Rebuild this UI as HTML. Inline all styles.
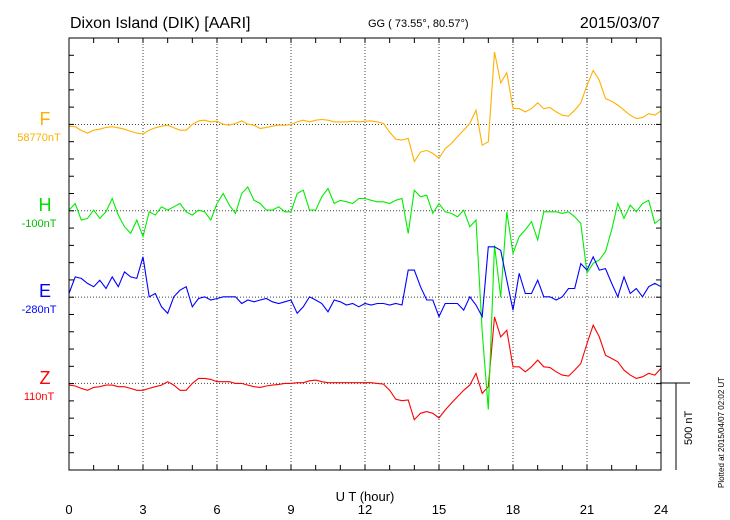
<!DOCTYPE html>
<html><head><meta charset="utf-8"><style>
body{margin:0;background:#fff;}
svg{display:block;font-family:"Liberation Sans",sans-serif;}
</style></head><body>
<svg id="chart" width="730" height="520" viewBox="0 0 730 520">
<text x="70" y="28" font-size="16">Dixon Island (DIK)  [AARI]</text>
<text x="368" y="27" font-size="11">GG ( 73.55°,  80.57°)</text>
<text x="660" y="28" font-size="16" text-anchor="end">2015/03/07</text>
<text x="365" y="501" font-size="13" text-anchor="middle">U T (hour)</text>
<text x="45" y="125" font-size="18" fill="#ffb000" text-anchor="middle">F</text>
<text x="39" y="141" font-size="11" fill="#ffb000" text-anchor="middle">58770nT</text>
<text x="45" y="211" font-size="18" fill="#00e000" text-anchor="middle">H</text>
<text x="39" y="227" font-size="11" fill="#00c000" text-anchor="middle">-100nT</text>
<text x="45" y="297" font-size="18" fill="#0000ff" text-anchor="middle">E</text>
<text x="39" y="313" font-size="11" fill="#0000ff" text-anchor="middle">-280nT</text>
<text x="45" y="384" font-size="18" fill="#ff0000" text-anchor="middle">Z</text>
<text x="39" y="400" font-size="11" fill="#ff0000" text-anchor="middle">110nT</text>
<g>
<line x1="660" y1="383" x2="690" y2="383" stroke="#000"/>
<line x1="676" y1="383" x2="676" y2="470" stroke="#000"/>
<text transform="translate(692,445) rotate(-90)" font-size="11">500 nT</text>
</g>
<text transform="translate(724,488) rotate(-90)" font-size="8">Plotted at 2015/04/07 02:02 UT</text>
<g id="grid"></g><g id="series"></g>
<rect x="69" y="38" width="592" height="432" fill="none" stroke="#000"/>
<g id="axes"></g>
</svg>
<script>
const hours=[];for(let i=0;i<=96;i++)hours.push(i*0.25);
const xTickLabels=[0,3,6,9,12,15,18,21,24];
const F=[-10,-13,-35,-50,-33,-27,-17,-13,-19,-27,-40,-50,-55,-33,-19,-10,-4,-19,-33,-33,0,21,25,15,19,2,-4,6,21,2,-4,-23,-17,-10,-4,-4,0,15,25,15,25,29,25,15,15,15,19,15,19,21,15,6,-45,-85,-90,-80,-215,-160,-150,-167,-195,-140,-110,-70,-33,6,83,-120,-100,420,240,300,92,92,73,92,125,92,98,73,54,48,83,125,227,313,255,150,135,112,83,54,35,40,63,54,79];
const H=[4,42,-54,-44,4,-44,-6,71,-25,-92,-131,-54,-150,-6,-25,23,4,23,42,-6,-25,4,-6,-54,42,100,33,-15,100,138,61,42,4,4,23,-6,-6,100,119,4,4,81,129,42,61,52,42,71,71,61,52,52,42,61,71,-131,119,81,90,-15,42,-6,-15,-35,4,-92,-54,-700,-1150,-200,-500,-6,-246,-150,-110,-63,-169,-6,-6,-6,-15,-6,-35,-73,-360,-304,-285,-236,-110,42,-44,33,-6,42,61,-73,-44];
const E=[21,117,108,79,60,98,50,117,60,146,117,108,233,2,21,-56,-94,2,40,60,-56,-8,2,-17,-8,2,2,2,-37,-17,-27,-17,-8,-27,-37,-27,-17,-94,-56,2,-17,-37,-85,-17,-27,-46,-37,-56,-37,-46,-37,-37,-46,-37,-46,156,156,60,-17,-17,-113,-37,-37,-37,-75,2,-46,-113,291,291,271,98,-75,137,21,21,98,2,2,-17,2,50,50,194,156,233,156,165,79,2,117,21,50,2,60,79,60];
const Z=[-10,-15,-29,-40,-23,-19,-10,-10,-19,-19,-29,-40,-40,-29,-19,-10,10,-10,-40,-40,0,29,29,23,10,10,10,0,0,-10,-19,-23,-15,-10,-6,0,0,4,4,15,19,10,4,4,4,4,4,4,4,4,0,-4,-40,-92,-100,-96,-210,-173,-163,-173,-200,-154,-115,-77,-40,-10,58,-58,-19,385,269,308,96,96,67,96,135,96,92,67,48,42,77,115,231,337,269,163,144,125,77,48,29,38,58,48,87];
const NS='http://www.w3.org/2000/svg';
const X0=69,X1=661,Y0=38,Y1=470,PXNT=17.28/100;
const xs=h=>X0+(X1-X0)*h/24;
const ys=(base,v)=>base-v*PXNT;
function mk(tag,attrs,parent){const e=document.createElementNS(NS,tag);for(const k in attrs)e.setAttribute(k,attrs[k]);parent.appendChild(e);return e;}
const grid=document.getElementById('grid'),ser=document.getElementById('series'),axes=document.getElementById('axes');
const bases=[124.5,210.8,297.1,383.4];
for(const t of xTickLabels){if(t===0||t===24)continue;
 const l=mk('line',{x1:xs(t),x2:xs(t),y1:Y0,y2:Y1,stroke:'#444','stroke-dasharray':'1,2'},grid);
 
 }
for(const b of bases){const l=mk('line',{x1:X0,x2:X1,y1:b,y2:b,stroke:'#444','stroke-dasharray':'1,2'},grid);
 
 }
for(let h=1;h<24;h++){
 const a=mk('line',{x1:xs(h),x2:xs(h),y1:Y0,y2:Y0+5,stroke:'#000'},axes);
 
 
 const b=mk('line',{x1:xs(h),x2:xs(h),y1:Y1,y2:Y1-5,stroke:'#000'},axes);
 
 }
for(let k=1;k<25;k++){const y=Y0+k*17.28;
 const a=mk('line',{x1:X0,x2:X0+5,y1:y,y2:y,stroke:'#000'},axes);
 
 
 const b=mk('line',{x1:X1,x2:X1-5,y1:y,y2:y,stroke:'#000'},axes);
 
 }
for(const t of xTickLabels){const tx=mk('text',{x:xs(t),y:514,'font-size':13,'text-anchor':'middle'},axes);tx.textContent=t;
 
 }
const series=[['z-series',Z,'#ff0000',3],['f-series',F,'#ffb000',0],['h-series',H,'#00ee00',1],['e-series',E,'#0000ff',2]];
for(const [name,vals,col,bi] of series){
 const pts=vals.map((v,i)=>xs(hours[i]).toFixed(1)+','+ys(bases[bi],v).toFixed(1)).join(' ');
 const p=mk('polyline',{points:pts,fill:'none',stroke:col,'stroke-width':1.1},ser);
 
 }
</script>
</body></html>
